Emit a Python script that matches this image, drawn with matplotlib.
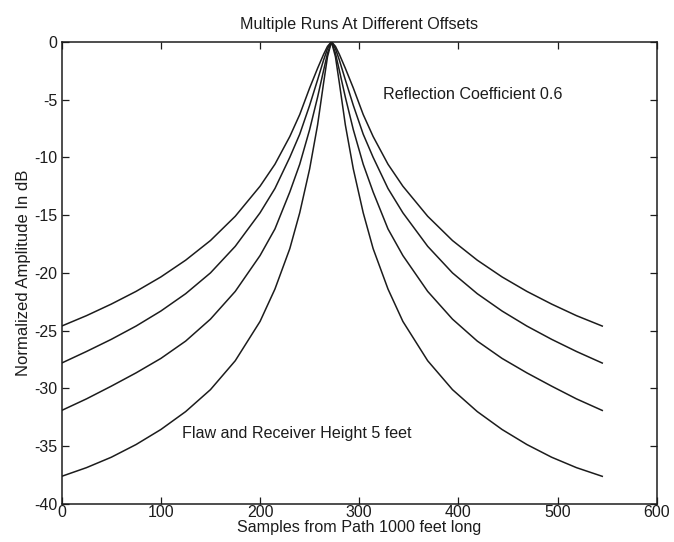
import matplotlib
matplotlib.use("Agg")
import matplotlib.pyplot as plt

# sample positions along the path
samples = [0, 25, 50, 75, 100, 125, 150, 175, 200, 215, 230, 240, 250, 258, 264, 268, 272,
           276, 280, 286, 294, 304, 314, 329, 344, 369, 394, 419, 444, 469, 494, 519, 545]

# normalized amplitude (dB) for the four offsets
run_1 = [-24.6, -23.7, -22.7, -21.6, -20.35, -18.9, -17.2, -15.1, -12.5, -10.6, -8.2, -6.3, -4.0, -2.3, -1.1, -0.4, 0.0,
         -0.4, -1.1, -2.3, -4.0, -6.3, -8.2, -10.6, -12.5, -15.1, -17.2, -18.9, -20.35, -21.6, -22.7, -23.7, -24.6]
run_2 = [-27.8, -26.8, -25.75, -24.6, -23.3, -21.8, -20.0, -17.7, -14.8, -12.7, -10.0, -8.0, -5.5, -3.3, -1.6, -0.6, 0.0,
         -0.6, -1.6, -3.3, -5.5, -8.0, -10.0, -12.7, -14.8, -17.7, -20.0, -21.8, -23.3, -24.6, -25.75, -26.8, -27.8]
run_3 = [-31.9, -30.9, -29.8, -28.65, -27.4, -25.9, -24.0, -21.6, -18.5, -16.2, -13.0, -10.6, -7.6, -4.8, -2.5, -1.0, 0.0,
         -1.0, -2.5, -4.8, -7.6, -10.6, -13.0, -16.2, -18.5, -21.6, -24.0, -25.9, -27.4, -28.65, -29.8, -30.9, -31.9]
run_4 = [-37.6, -36.85, -35.95, -34.85, -33.55, -32.0, -30.1, -27.6, -24.2, -21.4, -17.9, -14.8, -11.0, -7.2, -3.6, -1.3, 0.0,
         -1.3, -3.6, -7.2, -11.0, -14.8, -17.9, -21.4, -24.2, -27.6, -30.1, -32.0, -33.55, -34.85, -35.95, -36.85, -37.6]

x_ticks = [0, 100, 200, 300, 400, 500, 600]
y_ticks = [0, -5, -10, -15, -20, -25, -30, -35, -40]

plt.rcParams["font.family"] = ["Liberation Sans", "DejaVu Sans"]
plt.rcParams["axes.unicode_minus"] = False

ink = "#1c1c1c"

fig = plt.figure(figsize=(6.74, 5.42), dpi=100)
ax = fig.add_axes([0.0915, 0.07, 0.883, 0.853])

for run in [run_1, run_2, run_3, run_4]:
    ax.plot(samples, run, color=ink, linewidth=1.1)

ax.set_xlim(0, 600)
ax.set_ylim(-40, 0)
ax.set_xticks(x_ticks)
ax.set_yticks(y_ticks)
ax.tick_params(direction="in", top=True, right=True, length=5, width=0.9,
               labelsize=11.5, color=ink, labelcolor=ink)
ax.tick_params(axis="x", pad=1)
ax.tick_params(axis="y", pad=3)
for s in ax.spines.values():
    s.set_linewidth(1.1)
    s.set_color(ink)

ax.set_title("Multiple Runs At Different Offsets", fontsize=11.6, pad=9, color=ink)
ax.set_xlabel("Samples from Path 1000 feet long", fontsize=11.6, labelpad=0, color=ink)
ax.set_ylabel("Normalized Amplitude In dB", fontsize=12, labelpad=2, color=ink)

ax.text(324, -4.6, "Reflection Coefficient 0.6", fontsize=11.6, va="center", color=ink)
ax.text(121, -33.9, "Flaw and Receiver Height 5 feet", fontsize=11.6, va="center", color=ink)

fig.savefig("out.png", dpi=100)
